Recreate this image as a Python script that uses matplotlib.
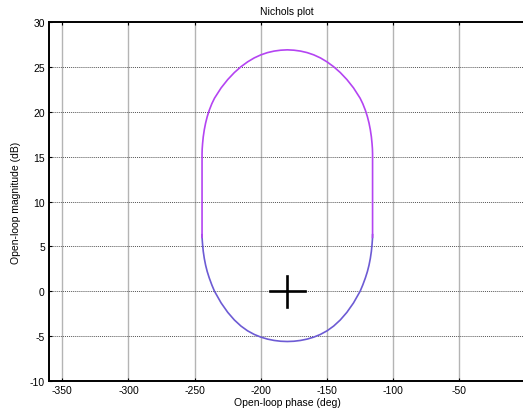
import numpy as np
import matplotlib.pyplot as plt

plt.rcParams["font.family"] = ["Liberation Sans", "DejaVu Sans"]
plt.rcParams["axes.unicode_minus"] = False

# upper half of the Nichols loop (phase in deg, magnitude in dB), left to right
upper_phase = [-244.4, -244.4, -244.4, -244.3, -244.0, -243.5, -242.7, -241.7,
               -240.5, -239.0, -237.0, -235.0, -230.0, -225.0, -220.0, -215.0,
               -210.0, -205.0, -200.0, -195.0, -190.0, -185.0, -180.0, -175.0,
               -170.0, -165.0, -160.0, -155.0, -150.0, -145.0, -140.0, -135.0,
               -130.0, -125.0, -123.0, -121.0, -119.5, -118.3, -117.3, -116.5,
               -116.0, -115.7, -115.6, -115.6, -115.6]
upper_mag = [6.0, 10.0, 15.3, 15.85, 16.45, 17.2, 18.0, 18.75,
             19.45, 20.15, 20.9, 21.51, 22.66, 23.59, 24.37, 25.02,
             25.56, 26.0, 26.34, 26.59, 26.76, 26.86, 26.9, 26.86,
             26.76, 26.59, 26.34, 26.0, 25.56, 25.02, 24.37, 23.59,
             22.66, 21.51, 20.9, 20.15, 19.45, 18.75, 18.0, 17.2,
             16.45, 15.85, 15.3, 10.0, 6.0]

# lower half of the loop, left to right
lower_phase = [-244.4, -244.3, -244.0, -243.5, -242.7, -241.7, -240.5, -239.0,
               -237.0, -235.0, -230.0, -225.0, -220.0, -215.0, -210.0, -205.0,
               -200.0, -195.0, -190.0, -185.0, -180.0, -175.0, -170.0, -165.0,
               -160.0, -155.0, -150.0, -145.0, -140.0, -135.0, -130.0, -125.0,
               -123.0, -121.0, -119.5, -118.3, -117.3, -116.5, -116.0, -115.7,
               -115.6]
lower_mag = [6.3, 5.8, 5.2, 4.45, 3.65, 2.9, 2.2, 1.5,
             0.7, 0.0, -1.3, -2.35, -3.2, -3.88, -4.41, -4.81,
             -5.11, -5.33, -5.48, -5.57, -5.6, -5.57, -5.48, -5.33,
             -5.11, -4.81, -4.41, -3.88, -3.2, -2.35, -1.3, 0.0,
             0.7, 1.5, 2.2, 2.9, 3.65, 4.45, 5.2, 5.8,
             6.3]

critical_point = (-180.0, 0.0)

x_ticks = [-350, -300, -250, -200, -150, -100, -50]
y_ticks = [-10, -5, 0, 5, 10, 15, 20, 25, 30]

fig = plt.figure(figsize=(5.23, 4.14), dpi=100)
ax = fig.add_axes([0.0937, 0.0773, 0.9113, 0.8671])

ax.plot(lower_phase, lower_mag, color="#6d5bd4", lw=1.2, zorder=3,
        solid_joinstyle="round")
ax.plot(upper_phase, upper_mag, color="#b444f2", lw=1.2, zorder=4,
        solid_joinstyle="round")

# critical point marker
cx, cy = critical_point
ax.plot([cx - 13.3, cx + 13.3], [cy, cy], color="black", lw=1.9, zorder=5)
ax.plot([cx, cx], [cy - 1.7, cy + 1.7], color="black", lw=1.9, zorder=5)

ax.set_xlim(-360, 0)
ax.set_ylim(-10, 30)
ax.set_xticks(x_ticks)
ax.set_yticks(y_ticks)

for xv in x_ticks:
    ax.axvline(xv, color="#b4b4b4", lw=1.0, zorder=1)
for yv in y_ticks[1:-1]:
    ax.axhline(yv, color="#555555", lw=0.7, ls=(0, (1, 1)), zorder=1)

ax.tick_params(direction="in", length=2.5, width=0.8, labelsize=7.5,
               top=True, right=True, pad=3)
for side in ["left", "bottom", "top", "right"]:
    ax.spines[side].set_linewidth(1.4)

ax.set_title("Nichols plot", fontsize=7.5, pad=6)
ax.set_xlabel("Open-loop phase (deg)", fontsize=7.5, labelpad=1)
ax.set_ylabel("Open-loop magnitude (dB)", fontsize=7.5, labelpad=6)

fig.savefig("out.png", dpi=100)
